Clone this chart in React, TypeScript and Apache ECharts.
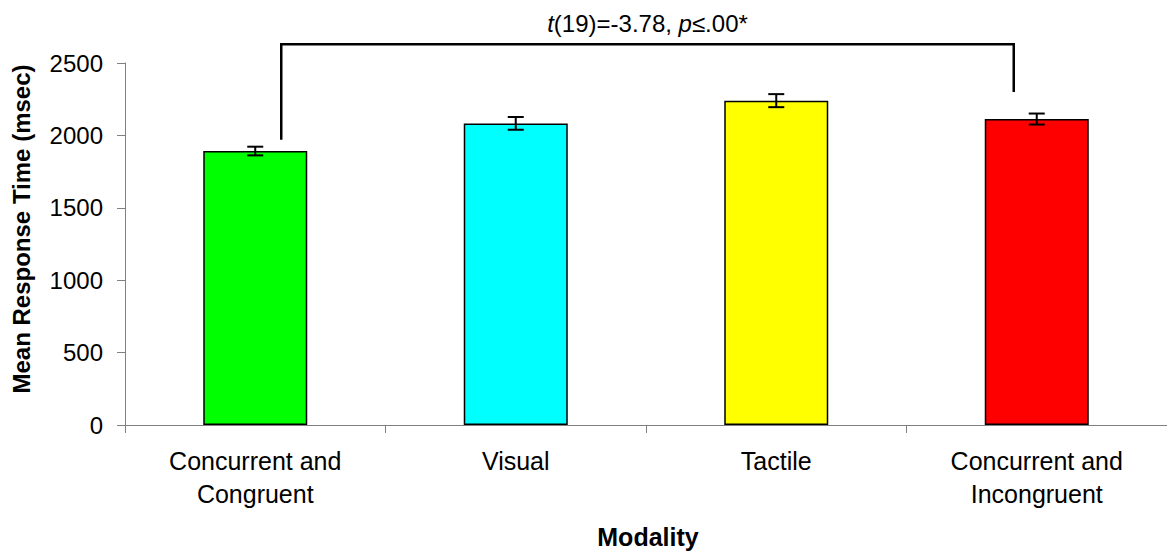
import React, { useEffect, useRef } from "react";
import * as echarts from "echarts";

const categories = ["Concurrent and\nCongruent", "Visual", "Tactile", "Concurrent and\nIncongruent"];
const meanRT = [1892, 2083, 2240, 2113];
const errorRT = [30, 44, 45, 38];
const barColors = ["#00FF00", "#00FFFF", "#FFFF00", "#FF0000"];
const yTicks = { min: 0, max: 2500, interval: 500 };
const bracket = { fromIndex: 0, toIndex: 3, leftEnd: 1970, top: 2630, rightEnd: 2300 };
const statText = "{i|t}(19)=-3.78, {i|p}≤.00*";

const FONT = "'Liberation Sans', Arial, sans-serif";

export default function App() {
  const ref = useRef<HTMLDivElement>(null);
  useEffect(() => {
    if (!ref.current) return;
    const chart = echarts.init(ref.current, undefined, { renderer: "svg" });
    chart.setOption({
      animation: false,
      backgroundColor: "#ffffff",
      grid: { left: 125, top: 63, width: 1047, height: 362 },
      xAxis: {
        type: "category",
        data: categories,
        axisLine: { lineStyle: { color: "#808080", width: 1 } },
        axisTick: { show: true, length: 8, lineStyle: { color: "#808080" }, alignWithLabel: false },
        axisLabel: {
          color: "#000",
          fontFamily: FONT,
          fontSize: 25,
          lineHeight: 33,
          margin: 19,
          interval: 0,
        },
      },
      yAxis: {
        type: "value",
        min: yTicks.min,
        max: yTicks.max,
        interval: yTicks.interval,
        axisLine: { show: true, lineStyle: { color: "#808080", width: 1 } },
        axisTick: { show: true, length: 8, lineStyle: { color: "#808080" } },
        splitLine: { show: false },
        axisLabel: {
          color: "#000",
          fontFamily: FONT,
          fontSize: 24,
          margin: 22,
          formatter: (v: number) => String(v),
        },
      },
      series: [
        {
          type: "bar",
          barWidth: 104,
          data: meanRT.map((v, i) => ({
            value: v,
            itemStyle: { color: barColors[i], borderColor: "#000", borderWidth: 1.5 },
          })),
        },
        {
          type: "custom",
          data: meanRT.map((v, i) => [i, v, errorRT[i]]),
          encode: { x: 0, y: 1 },
          z: 10,
          renderItem: (params: any, api: any) => {
            const i = api.value(0);
            const v = api.value(1);
            const e = api.value(2);
            const top = api.coord([i, v + e]);
            const bot = api.coord([i, v - e]);
            const hw = 8;
            const style = { stroke: "#000", lineWidth: 2 };
            return {
              type: "group",
              children: [
                { type: "line", shape: { x1: top[0], y1: top[1], x2: bot[0], y2: bot[1] }, style },
                { type: "line", shape: { x1: top[0] - hw, y1: top[1], x2: top[0] + hw, y2: top[1] }, style },
                { type: "line", shape: { x1: bot[0] - hw, y1: bot[1], x2: bot[0] + hw, y2: bot[1] }, style },
              ],
            };
          },
        },
      ],
    });

    const pL = chart.convertToPixel({ gridIndex: 0 }, [bracket.fromIndex, bracket.leftEnd]) as number[];
    const pT = chart.convertToPixel({ gridIndex: 0 }, [bracket.fromIndex, bracket.top]) as number[];
    const pR = chart.convertToPixel({ gridIndex: 0 }, [bracket.toIndex, bracket.rightEnd]) as number[];
    const xL = pL[0] + 26;
    const xR = pR[0] - 23;
    const midX = (xL + xR) / 2;

    chart.setOption({
      graphic: [
        {
          type: "polyline",
          shape: { points: [[xL, pL[1]], [xL, pT[1]], [xR, pT[1]], [xR, pR[1]]] },
          style: { stroke: "#000", lineWidth: 2.5, fill: "none" },
          z: 100,
        },
        {
          type: "text",
          x: midX,
          y: pT[1] - 21,
          style: {
            text: statText,
            font: `24px ${FONT}`,
            fill: "#000",
            align: "center",
            verticalAlign: "middle",
            rich: { i: { fontStyle: "italic", fontSize: 24, fontFamily: FONT } },
          },
        },
        {
          type: "text",
          x: 21,
          y: 229,
          rotation: Math.PI / 2,
          style: {
            text: "Mean Response Time (msec)",
            font: `bold 24px ${FONT}`,
            fill: "#000",
            align: "center",
            verticalAlign: "middle",
          },
        },
        {
          type: "text",
          x: 648,
          y: 537,
          style: {
            text: "Modality",
            font: `bold 25px ${FONT}`,
            fill: "#000",
            align: "center",
            verticalAlign: "middle",
          },
        },
      ],
    });

    return () => chart.dispose();
  }, []);
  return (
    <div
      ref={ref}
      style={{ position: "absolute", left: 0, top: 0, width: 1167, height: 558 }}
    />
  );
}
